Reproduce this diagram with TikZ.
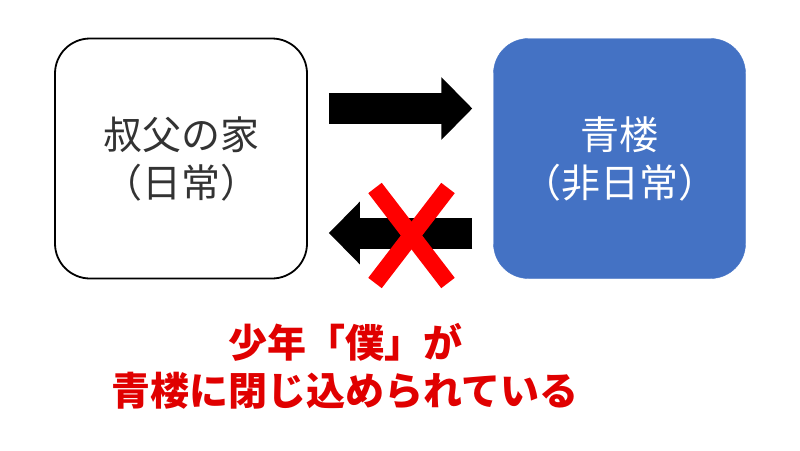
\documentclass[tikz,border=0pt]{standalone}
\usepackage{fontspec}
\setmainfont{Noto Sans CJK JP}
\usetikzlibrary{arrows.meta}
\definecolor{boxblue}{HTML}{4472C4}
\definecolor{crossred}{HTML}{FF0000}
\definecolor{notered}{HTML}{E00000}
\begin{document}
\begin{tikzpicture}[x=1pt, y=-1pt,
        place/.style={rounded corners=35pt, minimum width=252pt, minimum height=240pt,
            align=center, inner sep=0pt, font=\fontsize{39}{48}\selectfont},
        blockarrow/.style={line width=31pt, -{Triangle[length=31pt, width=61pt]},
            shorten <=21pt, shorten >=21pt}]
    \useasboundingbox (0, 0) rectangle (800, 450);
    \node[place, draw=black, line width=1.8pt, text=black!80] (house) at (181, 158.5) {叔父の家\\（日常）};
    \node[place, fill=boxblue, draw=boxblue, text=white] (seiro) at (619.5, 158.5) {青楼\\（非日常）};

    \draw[blockarrow] ([yshift=50pt]house.east) -- ([yshift=50pt]seiro.west);
    \draw[blockarrow] ([yshift=-74.5pt]seiro.west) -- ([yshift=-74.5pt]house.east);

    % cross over the way back
    \foreach \a/\b in {375/448, 448/375}
        \draw[crossred, line width=17pt] (\a, 188) -- (\b, 283);

    \node[text=notered, align=center, font=\bfseries\fontsize{39}{48}\selectfont] (note) at (345, 366)
        {少年「僕」が\\青楼に閉じ込められている};
\end{tikzpicture}
\end{document}
